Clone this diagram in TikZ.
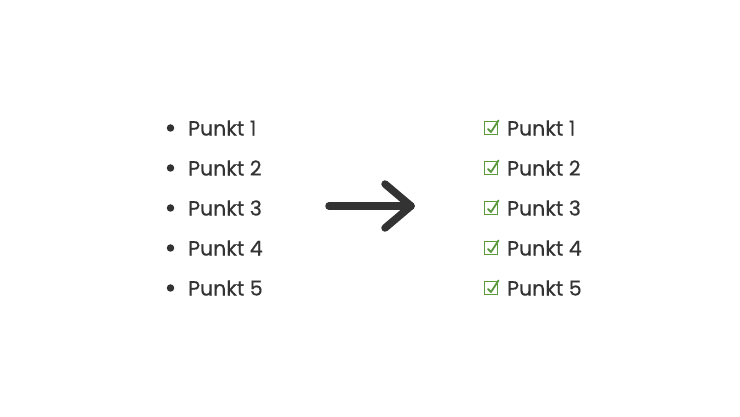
\documentclass[tikz,border=0pt]{standalone}
\usepackage{fontspec}
\setmainfont{Poppins}
\newfontfamily\itemfont{Poppins}[FakeBold=0.5]
\definecolor{ink}{HTML}{333333}
\definecolor{okgreen}{HTML}{5A9A3C}
\tikzset{
  item/.style={anchor=west, inner sep=0pt, text=ink, font=\itemfont\fontsize{20.5}{24}\selectfont},
  dotmark/.style={circle, fill=ink, inner sep=0pt, minimum size=7.5pt},
  chkbox/.style={draw=okgreen, line width=1.6pt, minimum size=13pt, inner sep=0pt},
  chk/.style={draw=okgreen, line width=1.8pt, line cap=round, line join=round},
  bigarrow/.style={draw=ink, line width=7.5pt, line cap=round, line join=round}
}
\begin{document}
\begin{tikzpicture}[x=1pt,y=-1pt]
\useasboundingbox[fill=white] (0,0) rectangle (740,417);
\foreach \i/\y in {1/128,2/168,3/208,4/248,5/288}{
  \node[dotmark] (b\i) at (170.5,\y) {};
  \node[item] (l\i) at (188,\y) {Punkt \i};
  \node[chkbox] (c\i) at (491,\y) {};
  \draw[chk] ([xshift=-3pt,yshift=-1pt]c\i.center) -- ([xshift=0pt,yshift=-4pt]c\i.center) -- ([xshift=7.5pt,yshift=7.5pt]c\i.center);
  \node[item] (r\i) at (507,\y) {Punkt \i};
}
\coordinate (as) at (329,206);
\coordinate (at) at (411,206);
\coordinate (au) at (385,184);
\coordinate (ad) at (385,228);
\draw[bigarrow] (as) -- (at);
\draw[bigarrow] (au) -- (at) -- (ad);
\end{tikzpicture}
\end{document}
